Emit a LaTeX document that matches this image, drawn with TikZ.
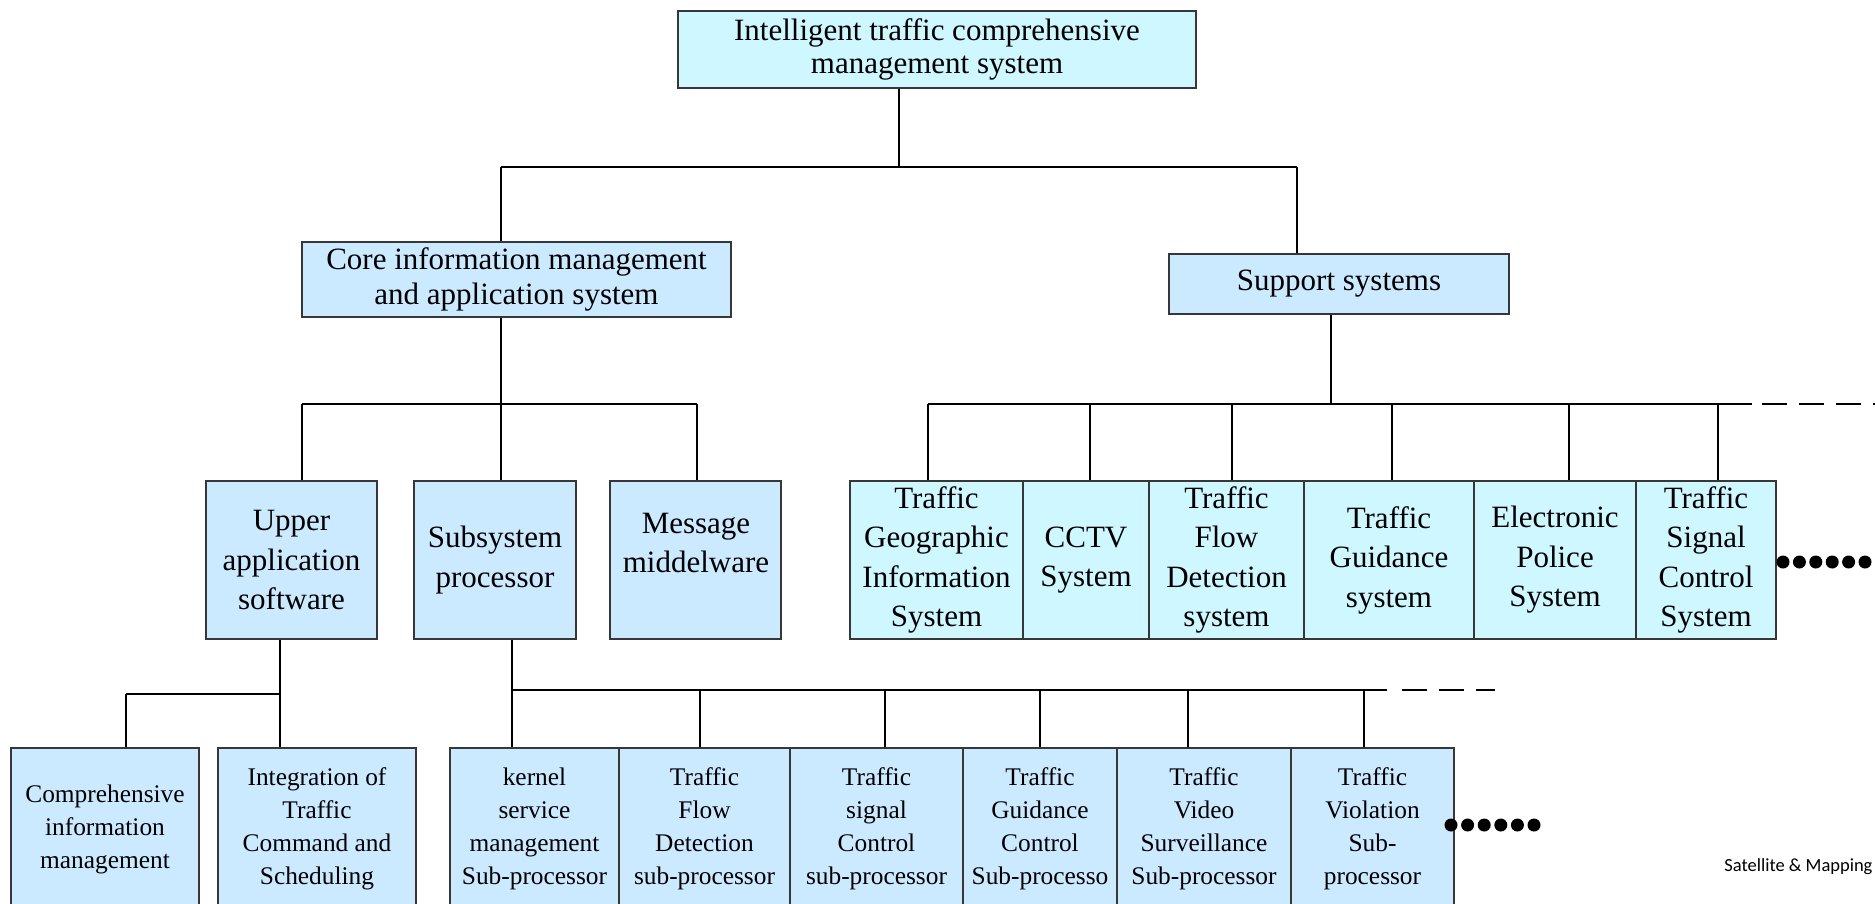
\documentclass[tikz,border=0pt]{standalone}
\usepackage{fontspec}
\setmainfont{Liberation Serif}
\newfontfamily\wmfont{Carlito}
\definecolor{cyanfill}{RGB}{206,247,255}
\definecolor{bluefill}{RGB}{204,234,255}
\definecolor{edgegray}{RGB}{55,55,55}
\begin{document}
\begin{tikzpicture}[x=0.4pt,y=-0.4pt,
  box/.style={draw=edgegray, line width=0.8pt, inner sep=0pt, align=center},
  cy/.style={box, fill=cyanfill},
  bl/.style={box, fill=bluefill},
  spanbox/.style n args={4}{minimum width={(#3-#1)*0.4pt}, minimum height={(#4-#2)*0.4pt}, at={({(#1+#3)/2},{(#2+#4)/2})}},
  toptxt/.style={font=\fontsize{12.4pt}{13.5pt}\selectfont},
  bigtxt/.style={font=\fontsize{12.4pt}{14pt}\selectfont},
  midtxt/.style={font=\fontsize{12.4pt}{15.8pt}\selectfont},
  smalltxt/.style={font=\fontsize{10.15pt}{13.2pt}\selectfont},
  link/.style={line width=1.15pt, black},
  dashlink/.style={link, dash pattern=on 10pt off 4.8pt},
]
\useasboundingbox (0,0) rectangle (1875,903);
\clip (0,0) rectangle (1875,903);
\fill[white] (0,0) rectangle (1875,903);

% top levels
\node[cy, toptxt, spanbox={678}{11}{1196}{88}] (top) {Intelligent traffic comprehensive\\management system};
\node[bl, bigtxt, spanbox={302}{242}{731}{317}] (core) {Core information management\\and application system};
\node[bl, bigtxt, spanbox={1169}{254}{1509}{314}] (supp) {Support systems};

% middle row
\node[bl, midtxt, spanbox={206}{481}{377}{639}] (upper) {Upper\\application\\software};
\node[bl, midtxt, spanbox={414}{481}{576}{639}] (subp) {Subsystem\\processor};
\node[bl, spanbox={610}{481}{781}{639}] (msg) {};
\node[midtxt, align=center, inner sep=0pt] (msgtext) at (696,543) {Message\\middelware};

\node[cy, midtxt, spanbox={850}{481}{1023}{639}] (gis) {Traffic\\Geographic\\Information\\System};
\node[cy, midtxt, spanbox={1023}{481}{1149}{639}] (cctv) {CCTV\\System};
\node[cy, midtxt, spanbox={1149}{481}{1304}{639}] (tfd) {Traffic\\Flow\\Detection\\system};
\node[cy, midtxt, spanbox={1304}{481}{1474}{639}] (tgs) {Traffic\\Guidance\\system};
\node[cy, midtxt, spanbox={1474}{481}{1636}{639}] (eps) {Electronic\\Police\\System};
\node[cy, midtxt, spanbox={1636}{481}{1776}{639}] (tsc) {Traffic\\Signal\\Control\\System};

% bottom row
\node[bl, smalltxt, spanbox={11}{748}{199}{910}] (cim) {Comprehensive\\information\\management};
\node[bl, smalltxt, spanbox={218}{748}{416}{910}] (itc) {Integration of\\Traffic\\Command and\\Scheduling};
\node[bl, smalltxt, spanbox={450}{748}{619}{910}] (ksm) {kernel\\service\\management\\Sub-processor};
\node[bl, smalltxt, spanbox={619}{748}{790}{910}] (tfs) {Traffic\\Flow\\Detection\\sub-processor};
\node[bl, smalltxt, spanbox={790}{748}{963}{910}] (tsp) {Traffic\\signal\\Control\\sub-processor};
\node[bl, smalltxt, spanbox={963}{748}{1117}{910}] (tgc) {Traffic\\Guidance\\Control\\Sub-processo};
\node[bl, smalltxt, spanbox={1117}{748}{1291}{910}] (tvs) {Traffic\\Video\\Surveillance\\Sub-processor};
\node[bl, smalltxt, spanbox={1291}{748}{1454}{910}] (tvi) {Traffic\\Violation\\Sub-\\processor};

% connectors: top
\coordinate (j0) at (899,167);
\coordinate (jc) at (501,167);
\coordinate (js) at (1297,167);
\draw[link] (top.south -| j0) -- (j0);
\draw[link] (jc) -- (js);
\draw[link] (jc) -- (core.north -| jc);
\draw[link] (js) -- (supp.north -| js);

% core
\coordinate (k0) at (501,404);
\coordinate (ku) at (302,404);
\coordinate (km) at (697,404);
\draw[link] (core.south -| k0) -- (k0);
\draw[link] (ku) -- (km);
\draw[link] (ku) -- (upper.north -| ku);
\draw[link] (k0) -- (subp.north -| k0);
\draw[link] (km) -- (msg.north -| km);

% support
\coordinate (s0) at (1331,404);
\coordinate (sa) at (928,404);
\coordinate (sb) at (1752,404);
\coordinate (sc) at (1762,404);
\coordinate (sd) at (1875,404);
\draw[link] (supp.south -| s0) -- (s0);
\draw[link] (sa) -- (sb);
\draw[dashlink] (sc) -- (sd);
\foreach \n/\x in {gis/928, cctv/1090, tfd/1232, tgs/1392, eps/1569, tsc/1718}{
  \coordinate (d\n) at (\x,404);
  \draw[link] (d\n) -- (\n.north -| d\n);
}

% upper application software
\coordinate (u0) at (280,694);
\coordinate (u1) at (126,694);
\draw[link] (upper.south -| u0) -- (itc.north -| u0);
\draw[link] (u1) -- (u0);
\draw[link] (u1) -- (cim.north -| u1);

% subsystem processor
\coordinate (p0) at (512,690);
\coordinate (p1) at (1387,690);
\coordinate (p2) at (1402,690);
\coordinate (p3) at (1495,690);
\draw[link] (subp.south -| p0) -- (ksm.north -| p0);
\draw[link] (p0) -- (p1);
\draw[dashlink] (p2) -- (p3);
\foreach \n/\x in {tfs/700, tsp/885, tgc/1040, tvs/1188, tvi/1364}{
  \coordinate (e\n) at (\x,690);
  \draw[link] (e\n) -- (\n.north -| e\n);
}

% continuation dots
\foreach \i in {0,...,5}{
  \fill (1783+16.4*\i,562) circle[radius=2.6pt];
  \fill (1451+16.6*\i,825) circle[radius=2.6pt];
}

% watermark
\node[font=\wmfont\fontsize{7.4pt}{9pt}\selectfont, anchor=east, inner sep=0pt] (wm) at (1873,867) {Satellite \& Mapping};
\end{tikzpicture}
\end{document}
